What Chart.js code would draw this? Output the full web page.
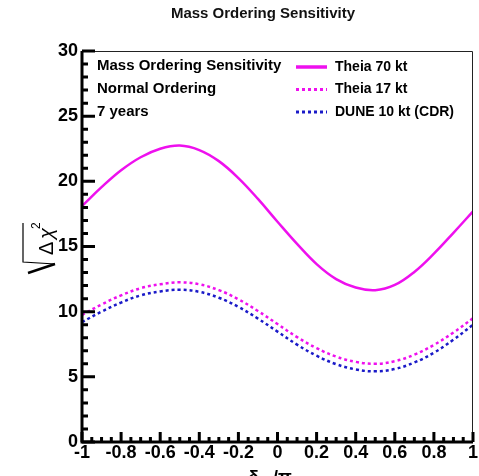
<!DOCTYPE html>
<html>
<head>
<meta charset="utf-8">
<script src="https://cdn.jsdelivr.net/npm/chart.js@4.4.1/dist/chart.umd.min.js"></script>
<style>
  html, body { margin: 0; padding: 0; background: #fff; }
</style>
</head>
<body>
<canvas id="c" width="479" height="476"></canvas>
<script>
// delta_CP / pi
const deltaCP = [-1, -0.9, -0.8, -0.7, -0.6, -0.5, -0.4, -0.3, -0.2, -0.1, 0,
  0.1, 0.2, 0.3, 0.4, 0.5, 0.6, 0.7, 0.8, 0.9, 1];
// sqrt(delta chi^2)
const theia70 = [18.1, 19.55, 20.85, 21.85, 22.5, 22.75, 22.4, 21.55, 20.25, 18.65, 16.9,
  15.2, 13.65, 12.5, 11.85, 11.65, 12.05, 13.05, 14.45, 16.05, 17.7];
const theia17 = [9.75, 10.55, 11.25, 11.8, 12.1, 12.25, 12.1, 11.65, 10.95, 10.05, 9.05,
  8.05, 7.2, 6.55, 6.15, 6.0, 6.2, 6.7, 7.45, 8.4, 9.5];
const dune10 = [9.2, 10.0, 10.7, 11.25, 11.55, 11.68, 11.52, 11.07, 10.37, 9.47, 8.47,
  7.47, 6.62, 5.97, 5.57, 5.42, 5.6, 6.1, 6.85, 7.85, 9.0];

const seriesNames = ['Theia 70 kt', 'Theia 17 kt', 'DUNE 10 kt (CDR)'];
const infoLines = ['Mass Ordering Sensitivity', 'Normal Ordering', '7 years'];
const xTicks = [-1, -0.8, -0.6, -0.4, -0.2, 0, 0.2, 0.4, 0.6, 0.8, 1];
const yTicks = [0, 5, 10, 15, 20, 25, 30];

const MAGENTA = '#ee10ee';
const BLUE = '#1a1ac8';
const FONT = '"Liberation Sans", Arial, sans-serif';

const pts = (ys) => deltaCP.map((x, i) => ({ x: x, y: ys[i] }));

// axes frame, ROOT style ticks inside, titles, text box and legend
const decorations = {
  id: 'decorations',
  afterDraw(chart) {
    const { ctx, chartArea: a, scales: { x, y } } = chart;
    ctx.save();

    // thin top / right border
    ctx.strokeStyle = '#222';
    ctx.lineWidth = 1;
    ctx.beginPath();
    ctx.moveTo(a.left, a.top + 0.5);
    ctx.lineTo(a.right - 0.5, a.top + 0.5);
    ctx.lineTo(a.right - 0.5, a.bottom);
    ctx.stroke();

    // minor + major ticks
    ctx.strokeStyle = '#000';
    ctx.lineWidth = 3;
    ctx.beginPath();
    for (let v = 0; v <= 30; v++) {
      const py = y.getPixelForValue(v);
      const len = v % 5 === 0 ? 13 : 6;
      ctx.moveTo(a.left, py);
      ctx.lineTo(a.left + len, py);
    }
    for (let k = -20; k <= 20; k++) {
      const px = x.getPixelForValue(k / 20);
      const len = k % 4 === 0 ? 10 : 5;
      ctx.moveTo(px, a.bottom);
      ctx.lineTo(px, a.bottom - len);
    }
    ctx.stroke();

    // thick left / bottom axes
    ctx.lineWidth = 3;
    ctx.beginPath();
    ctx.moveTo(a.left, a.top);
    ctx.lineTo(a.left, a.bottom);
    ctx.lineTo(a.right, a.bottom);
    ctx.stroke();

    // chart title
    ctx.fillStyle = '#111';
    ctx.font = 'bold 15px ' + FONT;
    ctx.textAlign = 'center';
    ctx.textBaseline = 'middle';
    ctx.fillText('Mass Ordering Sensitivity', 263, 14);

    // text block
    ctx.textAlign = 'left';
    ctx.fillStyle = '#000';
    infoLines.forEach((t, i) => ctx.fillText(t, 97, 66 + i * 23));

    // legend
    ctx.font = 'bold 14px ' + FONT;
    chart.data.datasets.forEach((ds, i) => {
      const ly = 67 + i * 22.5;
      ctx.strokeStyle = ds.borderColor;
      ctx.lineWidth = i === 0 ? 3.5 : 3;
      ctx.setLineDash(ds.borderDash || []);
      ctx.beginPath();
      ctx.moveTo(296, ly);
      ctx.lineTo(327, ly);
      ctx.stroke();
      ctx.setLineDash([]);
      ctx.fillStyle = '#000';
      ctx.fillText(seriesNames[i], 335, ly);
    });

    // y title: sqrt(Delta chi^2), rotated
    ctx.translate(53, 263);
    ctx.rotate(-Math.PI / 2);
    ctx.fillStyle = '#000';
    ctx.strokeStyle = '#000';
    ctx.textBaseline = 'alphabetic';
    ctx.font = '20px ' + FONT;
    ctx.fillText('\u0394', 8, 0);
    ctx.font = 'italic 20px ' + FONT;
    ctx.fillText('\u03c7', 24, 0);
    ctx.font = '12px ' + FONT;
    ctx.fillText('2', 34, -13);
    ctx.lineWidth = 1.2;
    ctx.beginPath();
    ctx.moveTo(40, -30);
    ctx.lineTo(1, -30);
    ctx.lineTo(-1, 2);
    ctx.stroke();
    ctx.lineWidth = 2.5;
    ctx.beginPath();
    ctx.moveTo(-1, 2);
    ctx.lineTo(-10, -25);
    ctx.stroke();
    ctx.setTransform(1, 0, 0, 1, 0, 0);

    // x title: delta_CP / pi (cut off at bottom)
    ctx.font = 'bold 18px ' + FONT;
    ctx.textBaseline = 'alphabetic';
    ctx.fillText('\u03b4', 248, 483);
    ctx.font = 'bold 12px ' + FONT;
    ctx.fillText('CP', 258, 487);
    ctx.font = 'bold 18px ' + FONT;
    ctx.fillText('/\u03c0', 273, 483);

    ctx.restore();
  }
};

new Chart(document.getElementById('c'), {
  type: 'line',
  data: {
    datasets: [
      { label: seriesNames[0], data: pts(theia70), borderColor: MAGENTA, borderWidth: 2.5 },
      { label: seriesNames[1], data: pts(theia17), borderColor: MAGENTA, borderWidth: 2.5, borderDash: [3, 3] },
      { label: seriesNames[2], data: pts(dune10), borderColor: BLUE, borderWidth: 2.5, borderDash: [3, 3] },
    ],
  },
  options: {
    responsive: false,
    animation: false,
    layout: { padding: { top: 51, right: 6, left: 0, bottom: 0 } },
    elements: { point: { radius: 0 }, line: { tension: 0.4, fill: false } },
    plugins: { legend: { display: false }, tooltip: { enabled: false }, title: { display: false } },
    scales: {
      x: {
        type: 'linear',
        min: -1,
        max: 1,
        afterBuildTicks: (s) => { s.ticks = xTicks.map((v) => ({ value: v })); },
        afterFit: (s) => { s.height = 34; },
        grid: { display: false, drawTicks: false },
        border: { display: false },
        ticks: {
          padding: 0,
          color: '#000',
          font: { family: FONT, size: 18, weight: 'bold' },
          maxRotation: 0,
          autoSkip: false,
          callback: (v) => String(Math.round(v * 10) / 10),
        },
      },
      y: {
        min: 0,
        max: 30,
        afterBuildTicks: (s) => { s.ticks = yTicks.map((v) => ({ value: v })); },
        afterFit: (s) => { s.width = 82; },
        grid: { display: false, drawTicks: false },
        border: { display: false },
        ticks: {
          padding: 4,
          color: '#000',
          font: { family: FONT, size: 18, weight: 'bold' },
          autoSkip: false,
        },
      },
    },
  },
  plugins: [decorations],
});
</script>
</body>
</html>
